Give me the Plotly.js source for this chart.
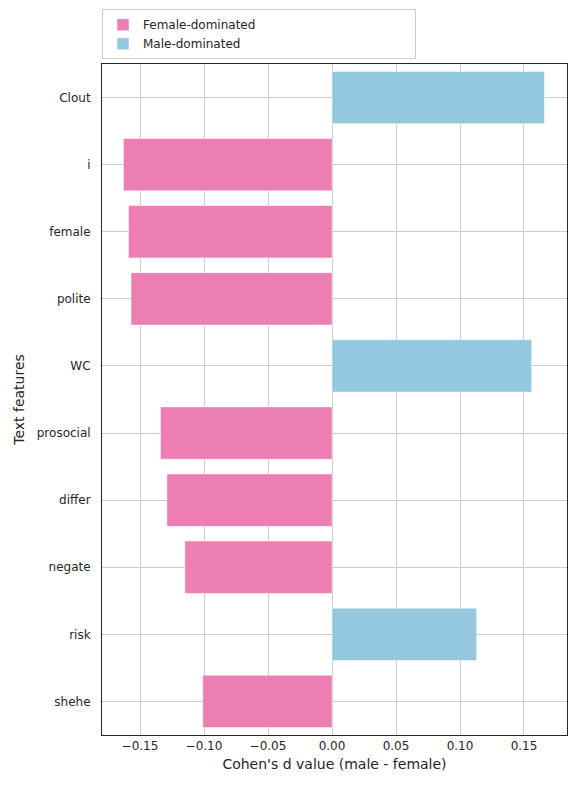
<!DOCTYPE html>
<html>
<head>
<script src="https://cdn.plot.ly/plotly-3.0.1.min.js"></script>
<style>body{margin:0}</style>
</head>
<body>
<div id="chart" style="width:576px;height:788px"></div>
<script>
const features = ["Clout", "i", "female", "polite", "WC", "prosocial", "differ", "negate", "risk", "shehe"];
const cohensD = [0.166, -0.163, -0.159, -0.157, 0.156, -0.134, -0.129, -0.115, 0.113, -0.101];

const femaleY = features.filter((f, i) => cohensD[i] < 0);
const femaleX = cohensD.filter(v => v < 0);
const maleY = features.filter((f, i) => cohensD[i] >= 0);
const maleX = cohensD.filter(v => v >= 0);

const data = [
    {
        type: "bar", orientation: "h", name: "Female-dominated",
        x: femaleX, y: femaleY, width: 0.78,
        marker: {color: "#ec7eb4", line: {color: "#ffffff", width: 0.5}}
    },
    {
        type: "bar", orientation: "h", name: "Male-dominated",
        x: maleX, y: maleY, width: 0.78,
        marker: {color: "#93c8de", line: {color: "#ffffff", width: 0.5}}
    }
];

const axisStyle = {
    showline: true, mirror: true, linecolor: "#262626", linewidth: 1,
    gridcolor: "#cccccc", ticks: "", zeroline: false
};

const layout = {
    width: 576, height: 788,
    margin: {l: 102, r: 9, t: 40, b: 53},
    font: {family: "DejaVu Sans", size: 12, color: "#262626"},
    barmode: "overlay",
    plot_bgcolor: "white", paper_bgcolor: "white",
    xaxis: Object.assign({}, axisStyle, {
        range: [-0.1797, 0.1836],
        tickvals: [-0.15, -0.1, -0.05, 0, 0.05, 0.1, 0.15],
        ticktext: ["−0.15", "−0.10", "−0.05", "0.00", "0.05", "0.10", "0.15"],
        title: {text: "Cohen's d value (male - female)", standoff: 6}
    }),
    yaxis: Object.assign({}, axisStyle, {
        categoryorder: "array", categoryarray: features,
        autorange: "reversed", ticklabelstandoff: 8,
        title: {text: "Text features", standoff: 8}
    }),
    showlegend: true,
    legend: {
        orientation: "h", x: 0, xanchor: "left", y: 1.007, yanchor: "bottom",
        bordercolor: "#cccccc", borderwidth: 1, bgcolor: "white",
        entrywidth: 0.66, entrywidthmode: "fraction",
        font: {size: 12}
    }
};

Plotly.newPlot("chart", data, layout, {displayModeBar: false});
</script>
</body>
</html>
